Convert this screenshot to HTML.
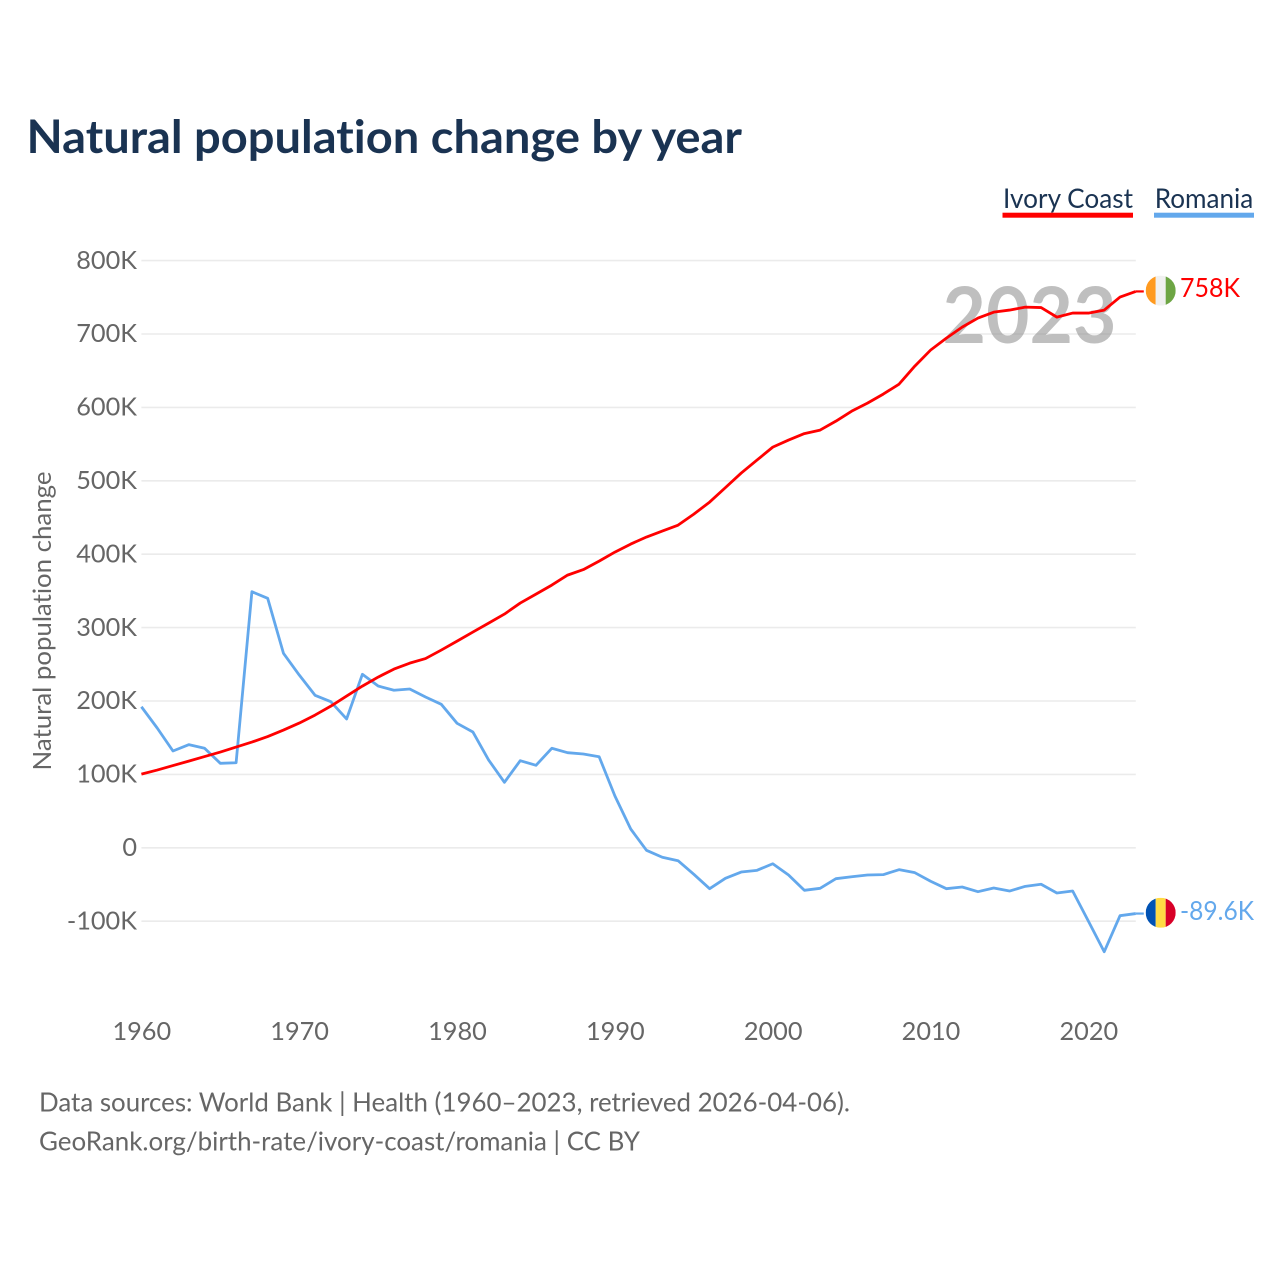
<!DOCTYPE html>
<html lang="en">
<head>
<meta charset="utf-8">
<title>Natural population change by year</title>
<style>
  html, body { margin: 0; padding: 0; background: #fff; }
  body { width: 1280px; height: 1280px; overflow: hidden; }
  svg { display: block; }
  text { font-family: "Lato", "Carlito", "Liberation Sans", sans-serif; font-variant-ligatures: none; }
</style>
</head>
<body>
<svg id="chart" xmlns="http://www.w3.org/2000/svg" width="1280" height="1280" viewBox="0 0 1280 1280">
  <defs>
    <clipPath id="flag-clip-ic"><circle cx="0" cy="0" r="15"></circle></clipPath>
    <clipPath id="flag-clip-ro"><circle cx="0" cy="0" r="15"></circle></clipPath>
  </defs>
  <rect x="0" y="0" width="1280" height="1280" fill="#ffffff"></rect>

  <text x="26.5" y="153" font-size="46" font-weight="700" fill="#1a3352" textLength="715.5" lengthAdjust="spacingAndGlyphs">Natural population change by year</text>

  <g>
    <g>
      <text x="1003" y="208" font-size="27" fill="#1a3352" textLength="130" lengthAdjust="spacingAndGlyphs">Ivory Coast</text>
      <rect x="1002.5" y="212.7" width="130.5" height="5" fill="#ff0000"></rect>
    </g>
    <g>
      <text x="1154.7" y="208" font-size="27" fill="#1a3352" textLength="98.6" lengthAdjust="spacingAndGlyphs">Romania</text>
      <rect x="1154" y="212.7" width="100" height="5" fill="#63a8ec"></rect>
    </g>
  </g>

  <g id="grid"></g>
  <g id="y-ticks"></g>
  <g id="x-ticks"></g>

  <text transform="translate(51 621) rotate(-90)" text-anchor="middle" font-size="25.5" fill="#666666" textLength="299" lengthAdjust="spacingAndGlyphs">Natural population change</text>

  <text x="1029.5" y="343" text-anchor="middle" font-size="78" font-weight="700" fill="#808080" fill-opacity="0.5" textLength="174" lengthAdjust="spacingAndGlyphs">2023</text>

  <g id="series"></g>
  <g id="ends"></g>

  <g>
    <text x="39" y="1111.5" font-size="26" fill="#666666" textLength="811" lengthAdjust="spacingAndGlyphs">Data sources: World Bank | Health (1960–2023, retrieved 2026-04-06).</text>
    <text x="39" y="1150.5" font-size="26" fill="#666666" textLength="601" lengthAdjust="spacingAndGlyphs">GeoRank.org/birth-rate/ivory-coast/romania | CC BY</text>
  </g>
</svg>

<script>
// Chart data (population values in thousands)
const startYear = 1960;
const endYear = 2023;
const yTickValues = [800, 700, 600, 500, 400, 300, 200, 100, 0, -100];
const yTickLabels = ["800K", "700K", "600K", "500K", "400K", "300K", "200K", "100K", "0", "-100K"];
const xTickYears = [1960, 1970, 1980, 1990, 2000, 2010, 2020];
const ivoryCoast = [
  100.4, 105.9, 112, 118.1, 124.3, 130.4, 137.2, 144, 151.5, 160.4,
  169.9, 180.8, 193, 206.7, 220.3, 232.6, 243.5, 251.6, 257.8, 269.4,
  281.6, 293.9, 306.1, 318.4, 333.4, 345.6, 357.9, 371.5, 379, 390.6,
  402.9, 413.8, 423.4, 431.5, 439.6, 454.6, 471, 490.7, 510.5, 528.2,
  545.9, 555.5, 564.3, 569.1, 581.3, 594.9, 605.8, 618.1, 631.7, 656.3,
  678.1, 694.4, 709.4, 721.7, 729.8, 732.6, 736.6, 736, 723, 728.5,
  728.5, 732.6, 750.3, 758
];
const romania = [
  192.2, 163.2, 131.9, 140.5, 135.6, 115.1, 115.9, 348.9, 339.9, 265,
  235.4, 207.8, 199, 175.5, 236.4, 220.4, 214.6, 216.3, 205.4, 195.5,
  169.6, 157.8, 119.6, 89.2, 118.7, 112.4, 135.6, 129.6, 127.8, 124.1,
  70.6, 25.6, -3.4, -12.9, -17.6, -36.1, -55.7, -41.6, -33, -30.7,
  -21.7, -37.1, -57.9, -55.2, -42.1, -39.4, -37.1, -36.6, -29.8, -33.9,
  -45.6, -55.7, -53.4, -59.8, -54.8, -58.9, -52.5, -49.7, -61.6, -58.9,
  -100.1, -141.6, -92.5, -89.6
];
const ivoryCoastEndLabel = "758K";
const romaniaEndLabel = "-89.6K";

const NS = "http://www.w3.org/2000/svg";
const plotLeft = 141.4;
const plotRight = 1135.8;
const zeroY = 847.8;
const pxPerThousand = 0.734;
const RED = "#ff0000";
const BLUE = "#63a8ec";

function xScale(year) {
  return plotLeft + (year - startYear) * (plotRight - plotLeft) / (endYear - startYear);
}
function yScale(value) {
  return zeroY - value * pxPerThousand;
}
function make(tag, attrs, parent) {
  const el = document.createElementNS(NS, tag);
  for (const key in attrs) el.setAttribute(key, attrs[key]);
  parent.appendChild(el);
  return el;
}

const gridGroup = document.getElementById("grid");
const yTickGroup = document.getElementById("y-ticks");
yTickValues.forEach(function (value, i) {
  const line = make("line", { x1: plotLeft, x2: plotRight, y1: yScale(value), y2: yScale(value), stroke: "#ebebeb", "stroke-width": 1.6 }, gridGroup);
  
  
  const label = make("text", { x: 137, y: yScale(value) + 8.2, "text-anchor": "end", "font-size": 25.3, fill: "#666666" }, yTickGroup);
  
  
  label.textContent = yTickLabels[i];
});

const xTickGroup = document.getElementById("x-ticks");
xTickYears.forEach(function (year) {
  const label = make("text", { x: xScale(year) + 0.4, y: 1040, "text-anchor": "middle", "font-size": 25.3, fill: "#666666" }, xTickGroup);
  
  
  label.textContent = String(year);
});

function linePoints(values) {
  return values.map(function (v, i) {
    return xScale(startYear + i).toFixed(2) + "," + yScale(v).toFixed(2);
  }).join(" ");
}

const seriesGroup = document.getElementById("series");
const romaniaLine = make("polyline", { points: linePoints(romania), fill: "none", stroke: BLUE, "stroke-width": 2.8, "stroke-linejoin": "round" }, seriesGroup);


const ivoryLine = make("polyline", { points: linePoints(ivoryCoast), fill: "none", stroke: RED, "stroke-width": 2.8, "stroke-linejoin": "round" }, seriesGroup);



const endsGroup = document.getElementById("ends");
const flagCx = 1160.7;

// Ivory Coast end marker
const icY = yScale(ivoryCoast[ivoryCoast.length - 1]);
const icTail = make("line", { x1: plotRight, x2: plotRight + 8, y1: icY, y2: icY, stroke: RED, "stroke-width": 2.2 }, endsGroup);


const icFlag = make("g", { transform: "translate(" + flagCx + " " + (icY - 0.8) + ")", "clip-path": "url(#flag-clip-ic)" }, endsGroup);


make("rect", { x: -15, y: -15, width: 10, height: 30, fill: "#ff9a1f" }, icFlag);
make("rect", { x: -5, y: -15, width: 10, height: 30, fill: "#f0f0f0" }, icFlag);
make("rect", { x: 5, y: -15, width: 10, height: 30, fill: "#6da544" }, icFlag);
const icLabel = make("text", { x: 1180, y: icY + 5.5, "font-size": 26, fill: RED, textLength: 60, lengthAdjust: "spacingAndGlyphs" }, endsGroup);


icLabel.textContent = ivoryCoastEndLabel;

// Romania end marker
const roY = yScale(romania[romania.length - 1]);
const roTail = make("line", { x1: plotRight, x2: plotRight + 8, y1: roY, y2: roY, stroke: BLUE, "stroke-width": 2.2 }, endsGroup);


const roFlag = make("g", { transform: "translate(" + flagCx + " " + (roY - 0.8) + ")", "clip-path": "url(#flag-clip-ro)" }, endsGroup);


make("rect", { x: -15, y: -15, width: 10, height: 30, fill: "#0052b4" }, roFlag);
make("rect", { x: -5, y: -15, width: 10, height: 30, fill: "#ffda44" }, roFlag);
make("rect", { x: 5, y: -15, width: 10, height: 30, fill: "#d80027" }, roFlag);
const roLabel = make("text", { x: 1180, y: roY + 6.5, "font-size": 26, fill: BLUE, textLength: 74, lengthAdjust: "spacingAndGlyphs" }, endsGroup);


roLabel.textContent = romaniaEndLabel;
</script>
</body>
</html>
